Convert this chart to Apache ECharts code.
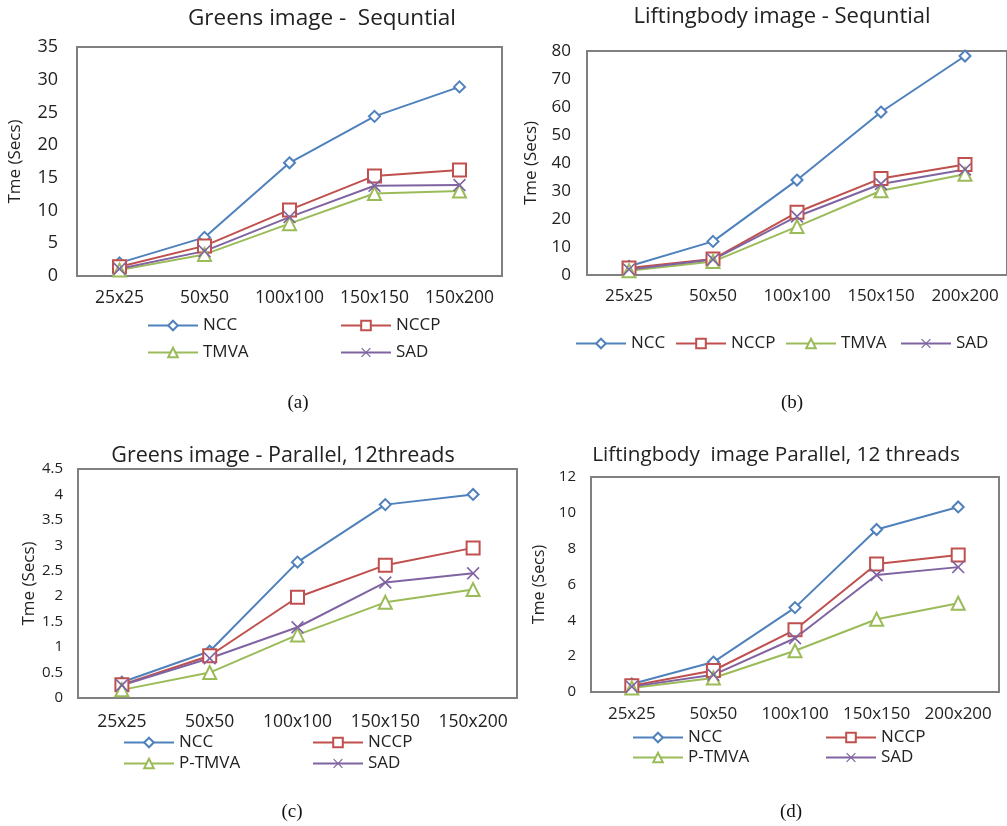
<!DOCTYPE html>
<html>
<head>
<meta charset="utf-8">
<script src="https://cdn.jsdelivr.net/npm/echarts@6/dist/echarts.min.js"></script>
<style>html,body{margin:0;padding:0;background:#fff}#c{width:1007px;height:826px}</style>
</head>
<body>
<div id="c"></div>
<script>
// ---- data ----
var catsA = ['25x25','50x50','100x100','150x150','150x200'];
var catsB = ['25x25','50x50','100x100','150x150','200x200'];
var catsC = ['25x25','50x50','100x100','150x150','150x200'];
var catsD = ['25x25','50x50','100x100','150x150','200x200'];

var aNCC  = [2.0, 5.9, 17.3, 24.4, 28.9];
var aNCCP = [1.4, 4.6, 10.1, 15.3, 16.2];
var aTMVA = [0.9, 3.3, 8.0, 12.6, 13.0];
var aSAD  = [1.1, 3.8, 9.0, 13.8, 13.9];

var bNCC  = [3.1, 12.0, 33.9, 58.2, 78.2];
var bNCCP = [2.5, 5.7, 22.4, 34.5, 39.5];
var bTMVA = [1.5, 4.8, 17.3, 30.1, 36.0];
var bSAD  = [2.0, 5.5, 20.9, 32.5, 37.7];

var cNCC  = [0.31, 0.92, 2.67, 3.80, 4.00];
var cNCCP = [0.26, 0.83, 1.98, 2.61, 2.95];
var cTMVA = [0.16, 0.50, 1.24, 1.88, 2.13];
var cSAD  = [0.25, 0.78, 1.39, 2.27, 2.45];

var dNCC  = [0.45, 1.67, 4.71, 9.07, 10.33];
var dNCCP = [0.35, 1.20, 3.47, 7.14, 7.64];
var dTMVA = [0.22, 0.78, 2.30, 4.06, 4.95];
var dSAD  = [0.30, 0.96, 3.00, 6.53, 6.97];

var titles = ['Greens image -  Sequntial', 'Liftingbody image - Sequntial',
              'Greens image - Parallel, 12threads', 'Liftingbody  image Parallel, 12 threads'];
var yMax = [35, 80, 4.5, 12];
var yStep = [5, 10, 0.5, 2];
var yName = 'Tme (Secs)';
var captions = ['(a)', '(b)', '(c)', '(d)'];

// ---- styles ----
var C_NCC = '#4F81BD', C_NCCP = '#C0504D', C_TMVA = '#9BBB59', C_SAD = '#8064A2';
var FONT = 'Open Sans';
var XSYM = 'path://M0,0.9 L0.9,0 L5,4.1 L9.1,0 L10,0.9 L5.9,5 L10,9.1 L9.1,10 L5,5.9 L0.9,10 L0,9.1 L4.1,5 Z';

var grids = [
  {left: 77, top: 47, width: 425, height: 229},
  {left: 587, top: 51, width: 420, height: 224},
  {left: 78, top: 469, width: 439, height: 229},
  {left: 591, top: 477, width: 408, height: 215}
];
var yLabelSize = [18, 17, 15, 15];
var yLabelMargin = [19, 16, 15, 15];
var xLabelSize = [17.5, 17, 17.5, 17];
var xLabelMargin = [13, 13, 15, 14];
var yNameGap = [53, 47, 36, 44];
var yNameSize = [17, 17, 17, 16];
var titleSize = [22.5, 22, 21.5, 20.7];
var titleTop = [2, 1, 440, 440];
var titleCenter = [317, 777, 278, 771];

var all = [
  {cats: catsA, s: [['NCC', aNCC], ['NCCP', aNCCP], ['TMVA', aTMVA], ['SAD', aSAD]]},
  {cats: catsB, s: [['NCC', bNCC], ['NCCP', bNCCP], ['TMVA', bTMVA], ['SAD', bSAD]]},
  {cats: catsC, s: [['NCC', cNCC], ['NCCP', cNCCP], ['P-TMVA', cTMVA], ['SAD', cSAD]]},
  {cats: catsD, s: [['NCC', dNCC], ['NCCP', dNCCP], ['P-TMVA', dTMVA], ['SAD', dSAD]]}
];
var styleOf = [
  {color: C_NCC, symbol: 'emptyDiamond', size: 11, bw: 1.5},
  {color: C_NCCP, symbol: 'emptyRect', size: 13, bw: 1.6},
  {color: C_TMVA, symbol: 'emptyTriangle', size: 13, bw: 1.6},
  {color: C_SAD, symbol: XSYM, size: 13, bw: 0}
];

var option = {
  animation: false,
  backgroundColor: '#fff',
  textStyle: {fontFamily: FONT},
  title: [], grid: [], xAxis: [], yAxis: [], series: [], legend: [], graphic: []
};

all.forEach(function (ch, i) {
  option.title.push({
    text: titles[i], left: titleCenter[i], top: titleTop[i], textAlign: 'center',
    textStyle: {fontFamily: FONT, fontSize: titleSize[i], fontWeight: 'normal', color: '#222'}
  });
  option.grid.push(Object.assign({show: true, borderColor: '#808080', borderWidth: 2, backgroundColor: 'transparent'}, grids[i]));
  option.xAxis.push({
    type: 'category', gridIndex: i, data: ch.cats, boundaryGap: true,
    axisLine: {lineStyle: {color: '#808080', width: 2}},
    axisTick: {show: false},
    axisLabel: {fontFamily: FONT, fontSize: xLabelSize[i], color: '#222', margin: xLabelMargin[i], interval: 0}
  });
  option.yAxis.push({
    type: 'value', gridIndex: i, min: 0, max: yMax[i], interval: yStep[i],
    name: yName, nameLocation: 'middle', nameGap: yNameGap[i],
    nameTextStyle: {fontFamily: FONT, fontSize: yNameSize[i], color: '#222'},
    axisLine: {show: true, lineStyle: {color: '#808080', width: 2}},
    axisTick: {show: false},
    splitLine: {show: false},
    axisLabel: {fontFamily: FONT, fontSize: yLabelSize[i], color: '#222', margin: yLabelMargin[i]}
  });
  ch.s.forEach(function (sr, k) {
    var st = styleOf[k];
    option.series.push({
      type: 'line', name: sr[0], xAxisIndex: i, yAxisIndex: i, data: sr[1],
      symbol: st.symbol, symbolSize: st.size, showAllSymbol: true,
      lineStyle: {color: st.color, width: 2},
      itemStyle: {color: st.color, borderColor: st.color, borderWidth: st.bw},
      emphasis: {disabled: true}
    });
  });
});

// legends: [name, left, rowCenterY]
var legendItems = [
  ['NCC', 147, 325], ['NCCP', 340, 325], ['TMVA', 147, 352], ['SAD', 340, 352],
  ['NCC', 575, 343], ['NCCP', 675, 343], ['TMVA', 785, 343], ['SAD', 900, 343],
  ['NCC', 123, 742], ['NCCP', 312, 742], ['P-TMVA', 123, 763], ['SAD', 312, 763],
  ['NCC', 632, 737], ['NCCP', 825, 737], ['P-TMVA', 632, 757], ['SAD', 825, 757]
];
legendItems.forEach(function (it) {
  option.legend.push({
    data: [it[0]], left: it[1], top: it[2] - 8, padding: 0,
    itemWidth: 50, itemHeight: 12, itemGap: 0, selectedMode: false,
    textStyle: {fontFamily: FONT, fontSize: 17, color: '#222', padding: [0, 0, 0, 0]}
  });
});

var capPos = [[298, 403], [792, 403], [292, 812], [791, 812]];
captions.forEach(function (t, i) {
  option.graphic.push({
    type: 'text', x: capPos[i][0], y: capPos[i][1],
    style: {text: t, font: '19px "Liberation Serif"', fill: '#111', textAlign: 'center', textVerticalAlign: 'middle'}
  });
});

var chart = echarts.init(document.getElementById('c'), null, {renderer: 'canvas'});
chart.setOption(option);
</script>
</body>
</html>
